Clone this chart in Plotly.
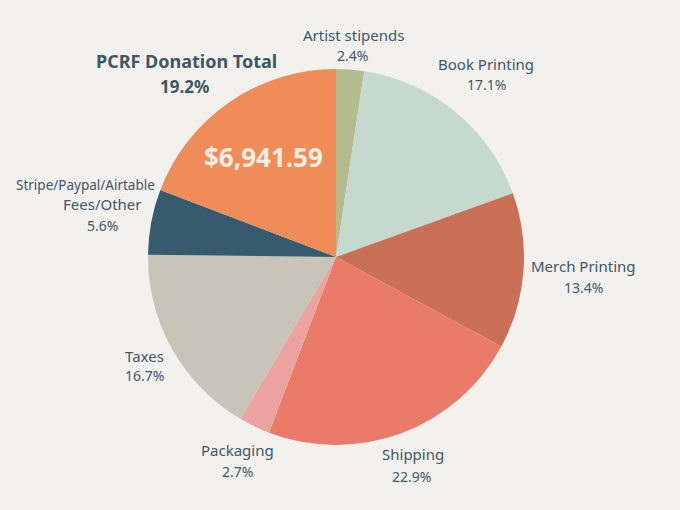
import plotly.graph_objects as go

# slices, clockwise from 12 o'clock
categories = ['Artist stipends', 'Book Printing', 'Merch Printing', 'Shipping',
              'Packaging', 'Taxes', 'Stripe/Paypal/Airtable Fees/Other',
              'PCRF Donation Total']
shares = [2.4, 17.1, 13.4, 22.9, 2.7, 16.7, 5.6, 19.2]
colors = ['#b4bc8e', '#c5d9cf', '#c97057', '#e97b68', '#eca2a1',
          '#c8c5b8', '#365a6e', '#ef8c58']
donation_amount = '$6,941.59'

BG = '#f2f1ed'
TXT = '#3f5667'
FONT = 'Noto Sans'

fig = go.Figure()
fig.add_trace(go.Pie(
    labels=categories,
    values=shares,
    sort=False,
    direction='clockwise',
    rotation=0,
    marker=dict(colors=colors, line=dict(width=0)),
    textinfo='none',
    hoverinfo='label+percent',
    showlegend=False,
    domain=dict(x=[0.2176, 0.7706], y=[0.1275, 0.8647]),
))

W, H = 680, 510


def note(text, x, y, size=15, color=TXT, bold=False):
    # x, y in pixels from top-left
    if bold:
        text = '<b>' + text + '</b>'
    fig.add_annotation(
        x=x / W, y=1 - y / H, xref='paper', yref='paper',
        text=text, showarrow=False, xanchor='center', yanchor='middle',
        font=dict(family=FONT, size=size, color=color),
    )


def pct(v):
    return f'{v:.1f}%'


# outside labels
note(categories[0], 353, 35)
note(pct(shares[0]), 352, 55, size=14)
note(categories[1], 486, 64)
note(pct(shares[1]), 486, 85, size=14)
note(categories[2], 583, 266)
note(pct(shares[2]), 583, 287, size=14)
note(categories[3], 413, 454)
note(pct(shares[3]), 412, 476, size=14)
note(categories[4], 238, 450)
note(pct(shares[4]), 238, 471, size=14)
note(categories[5], 144, 356)
note(pct(shares[5]), 144, 375, size=14)
note('Stripe/Paypal/Airtable', 85, 185, size=13.5)
note('Fees/Other', 102, 204)
note(pct(shares[6]), 102, 225, size=14)
note(categories[7], 186, 61, size=18, bold=True)
note(pct(shares[7]), 185, 86, size=17, bold=True)
note(donation_amount, 263, 157, size=26, color='#f6efe6', bold=True)

fig.update_layout(
    width=W, height=H,
    margin=dict(l=0, r=0, t=0, b=0),
    paper_bgcolor=BG,
    plot_bgcolor=BG,
)

fig.write_html("out.html", config={'displayModeBar': False},
               post_script="document.body.style.margin='0';")
